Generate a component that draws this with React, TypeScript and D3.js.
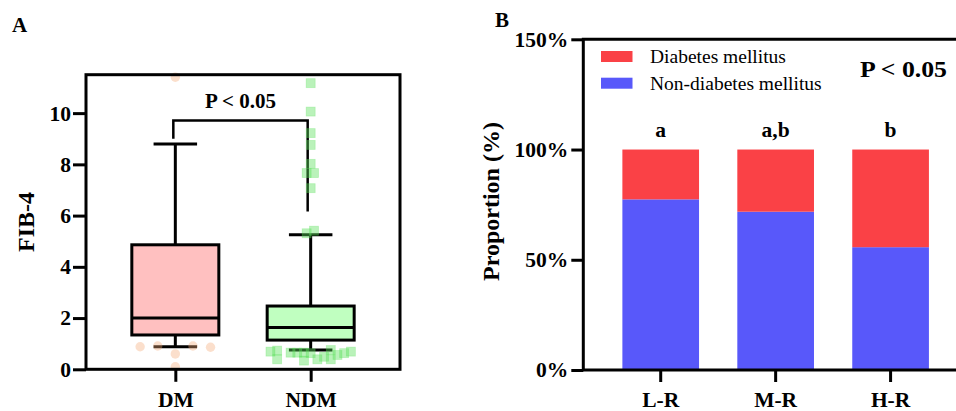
import * as d3 from 'd3';
import { useRef, useEffect } from 'react';

// Panel A: FIB-4 box plots
const groups = ['DM', 'NDM'];
const whiskerLow = [0.88, 0.75];
const q1 = [1.34, 1.14];
const medians = [2.0, 1.63];
const q3 = [4.86, 2.47];
const whiskerHigh = [8.79, 5.25];
const boxFills = ['#ffc0c0', '#c0ffc0'];
const fibTicks = [0, 2, 4, 6, 8, 10];

const dmPoints = [11.4, 0.88, 0.91, 0.6, 0.91, 0.86, 0.1];
const dmSlots = [0, -2, -1, 0, 1, 2, 0];
const ndmPoints = [11.17, 10.06, 9.22, 8.76, 8.02, 7.66, 7.66, 7.07, 5.31, 5.41,
  0.69, 0.73, 0.39, 0.65, 0.65, 0.34, 0.65, 0.63, 0.39, 0.49, 0.75, 0.39, 0.56, 0.63, 0.69];
const ndmSlots = [0, 0, 0, 0, 0, -0.6, 0.5, 0, -0.6, 0.5,
  -6, -5, -5, -3, -2, -1, -1, 0, 1, 2, 3, 3, 4, 5, 6];

// bracket: left foot, bar, right foot
const bracket = [9.0, 9.71, 6.16];

// Panel B: stacked proportions
const riskGroups = ['L-R', 'M-R', 'H-R'];
const nonDiabetes = [77.4, 71.8, 55.7];
const diabetes = [22.6, 28.2, 44.3];
const sigLetters = ['a', 'a,b', 'b'];
const pctTicks = [0, 50, 100, 150];
const seriesNames = ['Diabetes mellitus', 'Non-diabetes mellitus'];
const seriesColors = ['#fa4146', '#5858fa'];

const FONT = '"Liberation Serif", "Times New Roman", serif';

export default function App() {
  const svgRef = useRef<SVGSVGElement>(null);

  useEffect(() => {
    const svg = d3.select(svgRef.current);
    svg.selectAll('*').remove();
    svg.attr('font-family', FONT);

    // ---------- Panel A ----------
    const left = 86, right = 400, top = 74.7, bottom = 369.3;
    const yA = d3.scaleLinear().domain([0, 11.5]).range([bottom, top]);
    const xA = d3.scalePoint().domain(groups).range([left, right]).padding(0.66);
    const boxW = 87;

    svg.append('text').attr('x', 12).attr('y', 32).text('A')
      .attr('font-size', 21).attr('font-weight', 'bold');

    const gA = svg.append('g');

    groups.forEach((g, i) => {
      const cx = xA(g)!;
      // whisker lines
      gA.append('line').attr('x1', cx).attr('x2', cx)
        .attr('y1', yA(q3[i])).attr('y2', yA(whiskerHigh[i]))
        .attr('stroke', '#000').attr('stroke-width', 3);
      gA.append('line').attr('x1', cx).attr('x2', cx)
        .attr('y1', yA(q1[i])).attr('y2', yA(whiskerLow[i]))
        .attr('stroke', '#000').attr('stroke-width', 3);
      [whiskerHigh[i], whiskerLow[i]].forEach(v => {
        gA.append('line').attr('x1', cx - boxW / 4).attr('x2', cx + boxW / 4)
          .attr('y1', yA(v)).attr('y2', yA(v))
          .attr('stroke', '#000').attr('stroke-width', 3);
      });
      gA.append('rect')
        .attr('x', cx - boxW / 2).attr('width', boxW)
        .attr('y', yA(q3[i])).attr('height', yA(q1[i]) - yA(q3[i]))
        .attr('fill', boxFills[i]).attr('stroke', '#000').attr('stroke-width', 3);
      gA.append('line').attr('x1', cx - boxW / 2).attr('x2', cx + boxW / 2)
        .attr('y1', yA(medians[i])).attr('y2', yA(medians[i]))
        .attr('stroke', '#000').attr('stroke-width', 3);
    });

    // significance bracket
    const bx0 = xA('DM')! - 2, bx1 = xA('NDM')! - 3;
    gA.append('path')
      .attr('d', `M${bx0},${yA(bracket[0])}V${yA(bracket[1])}H${bx1}V${yA(bracket[2])}`)
      .attr('fill', 'none').attr('stroke', '#000').attr('stroke-width', 2.5);
    gA.append('text').attr('x', (bx0 + bx1) / 2).attr('y', yA(bracket[1]) - 13)
      .attr('text-anchor', 'middle').attr('font-size', 21).attr('font-weight', 'bold')
      .text('P < 0.05');

    // points
    gA.selectAll('.dm-pt').data(dmPoints).join('circle')
      .attr('class', 'dm-pt')
      .attr('cx', (d, i) => xA('DM')! + dmSlots[i] * 17.6)
      .attr('cy', d => yA(d))
      .attr('r', 4.7)
      .attr('fill', 'rgba(244,170,120,0.38)');

    const sq = 9;
    gA.selectAll('.ndm-pt').data(ndmPoints).join('rect')
      .attr('class', 'ndm-pt')
      .attr('x', (d, i) => xA('NDM')! + ndmSlots[i] * 6.7 - sq / 2)
      .attr('y', d => yA(d) - sq / 2)
      .attr('width', sq).attr('height', sq)
      .attr('fill', 'rgba(90,225,90,0.42)')
      .attr('stroke', 'rgba(90,225,90,0.3)').attr('stroke-width', 0.8);

    // frame
    gA.append('rect').attr('x', left).attr('y', top)
      .attr('width', right - left).attr('height', bottom - top)
      .attr('fill', 'none').attr('stroke', '#000').attr('stroke-width', 3);

    const axA = gA.append('g').attr('transform', `translate(${left},0)`)
      .call(d3.axisLeft(yA).tickValues(fibTicks).tickSize(13).tickPadding(2).tickFormat(d3.format('d')));
    axA.select('.domain').remove();
    axA.selectAll('line').attr('stroke-width', 3);
    axA.selectAll('text').attr('font-size', 21.5).attr('font-weight', 'bold').attr('font-family', FONT).attr('fill', '#000');

    const axAx = gA.append('g').attr('transform', `translate(0,${bottom})`)
      .call(d3.axisBottom(xA).tickSize(12.5).tickPadding(9.5));
    axAx.select('.domain').remove();
    axAx.selectAll('line').attr('stroke-width', 3);
    axAx.selectAll('text').attr('font-size', 21.5).attr('font-weight', 'bold').attr('font-family', FONT).attr('fill', '#000');

    gA.append('text')
      .attr('transform', `translate(34,${(top + bottom) / 2}) rotate(-90)`)
      .attr('text-anchor', 'middle').attr('font-size', 24).attr('font-weight', 'bold')
      .text('FIB-4');

    // ---------- Panel B ----------
    const bLeft = 583.3, bRight = 968, bTop = 39.3, bBottom = 370;
    const yB = d3.scaleLinear().domain([0, 150]).range([bBottom, bTop]);
    const xB = d3.scaleBand().domain(riskGroups).range([bLeft, bRight])
      .paddingInner(0.333).paddingOuter(0.34);

    svg.append('text').attr('x', 495).attr('y', 26.7).text('B')
      .attr('font-size', 21).attr('font-weight', 'bold');

    const gB = svg.append('g');
    const rows = riskGroups.map((g, i) => ({ group: g, non: nonDiabetes[i], dm: diabetes[i] }));
    const stacked = d3.stack<any>().keys(['non', 'dm'])(rows);
    const stackColor = { non: seriesColors[1], dm: seriesColors[0] } as Record<string, string>;

    gB.selectAll('.layer').data(stacked).join('g')
      .attr('class', 'layer')
      .attr('fill', d => stackColor[d.key])
      .selectAll('rect').data(d => d).join('rect')
      .attr('x', d => xB(d.data.group)!)
      .attr('width', xB.bandwidth())
      .attr('y', d => yB(d[1]))
      .attr('height', d => yB(d[0]) - yB(d[1]));

    gB.selectAll('.sig').data(sigLetters).join('text')
      .attr('class', 'sig')
      .attr('x', (d, i) => xB(riskGroups[i])! + xB.bandwidth() / 2)
      .attr('y', yB(100) - 12.6)
      .attr('text-anchor', 'middle').attr('font-size', 21.5).attr('font-weight', 'bold')
      .text(d => d);

    // frame lines
    gB.append('path')
      .attr('d', `M${bRight},${bTop}H${bLeft}V${bBottom}H${bRight}`)
      .attr('fill', 'none').attr('stroke', '#000').attr('stroke-width', 3);

    const axB = gB.append('g').attr('transform', `translate(${bLeft},0)`)
      .call(d3.axisLeft(yB).tickValues(pctTicks).tickSize(12).tickPadding(3).tickFormat(d => `${d}%`));
    axB.select('.domain').remove();
    axB.selectAll('line').attr('stroke-width', 3);
    axB.selectAll('text').attr('font-size', 21.5).attr('font-weight', 'bold').attr('font-family', FONT).attr('fill', '#000');

    const axBx = gB.append('g').attr('transform', `translate(0,${bBottom})`)
      .call(d3.axisBottom(xB).tickSize(12).tickPadding(9.5));
    axBx.select('.domain').remove();
    axBx.selectAll('line').attr('stroke-width', 3);
    axBx.selectAll('text').attr('font-size', 21.5).attr('font-weight', 'bold').attr('font-family', FONT).attr('fill', '#000');

    gB.append('text')
      .attr('transform', `translate(499,201.5) rotate(-90)`)
      .attr('text-anchor', 'middle').attr('font-size', 24).attr('font-weight', 'bold')
      .text('Proportion (%)');

    // legend
    const legend = gB.selectAll('.legend').data(seriesNames).join('g')
      .attr('class', 'legend')
      .attr('transform', (d, i) => `translate(601,${51 + i * 26.7})`);
    legend.append('rect').attr('width', 31.5).attr('height', 11)
      .attr('fill', (d, i) => seriesColors[i]);
    legend.append('text').attr('x', 49).attr('y', 12.3)
      .attr('font-size', 19.5).text(d => d);

    gB.append('text').attr('x', 860).attr('y', 76.7)
      .attr('font-size', 22.5).attr('font-weight', 'bold')
      .attr('textLength', 87).attr('lengthAdjust', 'spacingAndGlyphs')
      .text('P < 0.05');
  }, []);

  return (
    <svg ref={svgRef} width={956} height={411}
      style={{ position: 'absolute', left: 0, top: 0, background: '#fff' }} />
  );
}
